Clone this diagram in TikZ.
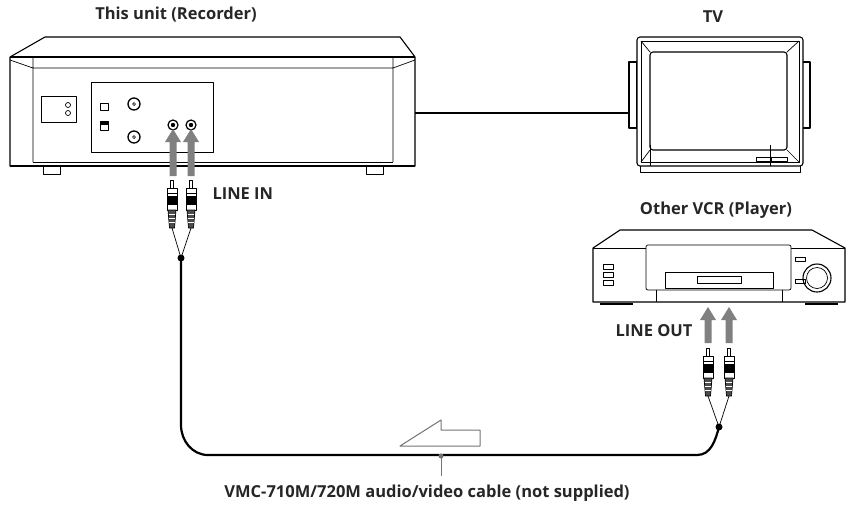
\documentclass[tikz,border=0pt]{standalone}
\usepackage{fontspec}
\setmainfont{Open Sans}
\begin{document}
\begin{tikzpicture}[x=1pt,y=-1pt,line join=round,
  ln/.style={draw=black,line width=1.1pt},
  thin/.style={draw=black,line width=0.7pt},
  lbl/.style={font=\bfseries\fontsize{16.5}{19}\selectfont,text=black!85},
  garrow/.style={fill=black!50,draw=none},
  cable/.style={line width=2.2pt,draw=black},
  plug/.pic={
    \draw[thin,fill=white] (-1.5,0) rectangle (1.5,8);
    \draw[thin,fill=white] (-5,8) rectangle (5,30);
    \draw[thin] (-5,13)--(5,13) (-5,16)--(5,16) (-5,24)--(5,24);
    \fill[black] (-5,16) rectangle (5,24);
    \draw[thin,fill=black!70] (-4,30)--(4,30)--(2.5,48)--(-2.5,48)--cycle;
    \draw[white,line width=0.4pt] (-3,34)--(3,34) (-3,38)--(3,38) (-3,42)--(3,42);
  }]
\useasboundingbox (0,0) rectangle (854,515);
% ---------- Recorder ----------
\draw[ln,fill=white] (45,37)--(400,37)--(415,57)--(415,166)--(10,166)--(10,57)--cycle;
\draw[ln] (10,57)--(415,57);
\draw[thin] (33,57)--(33,162) (393,57)--(393,162) (10,60)--(33,68)--(393,68)--(415,60);
\draw[thin] (33,162)--(393,162);
\draw[line width=2pt] (10,166)--(415,166);
\draw[thin] (43,166) rectangle (60,174) (366,166) rectangle (383,174);
\node[draw,thin,minimum width=35pt,minimum height=26pt,inner sep=0] (pw) at (58.5,109) {};
\draw[thin] (68,105) circle (2.5) (68,113) circle (2.5);
\node[draw,thin,minimum width=122pt,minimum height=70pt,inner sep=0] (panel) at (152,117) {};
\draw[thin] (100,103) rectangle (108,110);
\draw[thin] (100,121) rectangle (108,130); \fill (100,121) rectangle (108,125);
\foreach \y in {104,137}{\draw[line width=1.3pt] (134,\y) circle (6); \draw[thin] (134,\y) circle (1.5);}
\foreach \x in {173,191}{\draw[line width=1.2pt] (\x,125) circle (5); \fill (\x,125) circle (2.2);}
\node[lbl,anchor=south] (t1) at (176,26) {This unit (Recorder)};
% gray arrows in
\foreach \x in {173,191}{\fill[garrow] (\x-3.5,176)--(\x-3.5,142)--(\x-8,142)--(\x,129)--(\x+8,142)--(\x+3.5,142)--(\x+3.5,176)--cycle;}
\pic at (172,180) {plug};
\pic at (191,180) {plug};
\coordinate (j1) at (181,258);
\draw[thin] (172,228)--(j1)--(191,228);
\fill (j1) circle (3.5);
\node[lbl,anchor=west] (li) at (209,194) {LINE IN};
% ---------- TV ----------
\coordinate (tvl) at (628,113);
\draw[cable] (415,113)--(tvl);
\draw[ln,fill=white] (629,62) rectangle (637,128);
\draw[ln,fill=white] (802,62) rectangle (810,128);
\draw[ln,fill=white,rounded corners=3] (637,37) rectangle (803,166);
\draw[thin] (640,166)--(640,172)--(800,172)--(800,166);
\draw[thin] (650,145)--(650,166) (770,145)--(770,166);
\draw[thin] (641,41)--(650,52) (799,41)--(787,52) (641,162)--(650,150) (799,162)--(787,150);
\draw[thin] (641,41) rectangle (799,162);
\draw[ln,rounded corners=3] (650,52) rectangle (787,150);
\draw[thin] (756,157) rectangle (787,161) (771,157)--(771,161);
\node[lbl,anchor=south] (t2) at (713,26) {TV};
% ---------- Other VCR ----------
\draw[ln,fill=white] (620,230)--(812,230)--(845,248)--(845,302)--(593,302)--(593,248)--cycle;
\draw[thin] (593,248)--(845,248);
\draw[thin,fill=white,rounded corners=2] (646,245) rectangle (791,290);
\draw[thin] (656,290)--(656,302) (782,290)--(782,302);
\draw[thin] (665,272) rectangle (773,288);
\draw[thin] (697,276) rectangle (741,283);
\foreach \y in {264,272,280}{\draw[thin] (603,\y) rectangle (613,\y+5);}
\draw[thin] (795,257) rectangle (805,261) (795,279) rectangle (805,283);
\draw[line width=1.1pt] (817,278) circle (14); \draw[thin] (817,278) circle (10.5);
\draw[line width=1.8pt] (600,304)--(633,304) (805,304)--(838,304);
\node[lbl,anchor=south] (t3) at (716,222) {Other VCR (Player)};
\foreach \x in {708,729}{\fill[garrow] (\x-3.5,343)--(\x-3.5,320)--(\x-8,320)--(\x,307)--(\x+8,320)--(\x+3.5,320)--(\x+3.5,343)--cycle;}
\pic at (708,348) {plug};
\pic at (729,348) {plug};
\coordinate (j2) at (719,427);
\draw[thin] (708,396)--(j2)--(729,396);
\fill (j2) circle (3.5);
\node[lbl,anchor=east] (lo) at (696,331) {LINE OUT};
% ---------- cable ----------
\draw[cable] (j1)--(181,425) to[out=-90,in=180] (208,455)--(697,455) to[out=0,in=-105] (j2);
\draw[draw=black!55,line width=1pt] (400,446)--(441,420)--(441,430)--(480,430)--(480,446)--cycle;
\coordinate (tk) at (441,456);
\fill[black!55] (tk) circle (2.5);
\draw[black!55,line width=1pt] (tk)--(441,476);
\node[lbl,anchor=north] (t4) at (427,481) {VMC-710M/720M audio/video cable (not supplied)};
\end{tikzpicture}
\end{document}
